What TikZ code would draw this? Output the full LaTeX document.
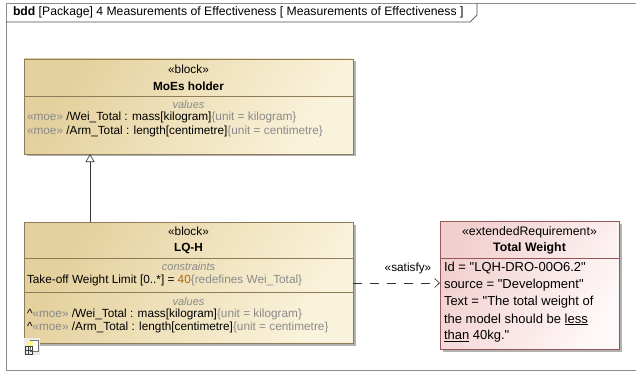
\documentclass[tikz,border=0pt]{standalone}
\usepackage{fontspec}
\setmainfont{Liberation Sans}
\usetikzlibrary{arrows.meta,shadows}
\definecolor{tanD}{HTML}{E4D09C}
\definecolor{tanL}{HTML}{FAF3DC}
\definecolor{tanB}{HTML}{8E7C58}
\definecolor{pinkD}{HTML}{F2CFCF}
\definecolor{pinkL}{HTML}{FFF8F8}
\definecolor{reqB}{HTML}{985656}
\definecolor{grayT}{HTML}{8A8A8A}
\definecolor{numC}{HTML}{A8650A}
\definecolor{frameC}{HTML}{8C8C8C}
\tikzset{
  x=1pt,y=-1pt,
  every node/.style={inner sep=0pt,outer sep=0pt,font=\fontsize{11.8}{14}\selectfont},
  blockbox/.style={draw=tanB,line width=0.8pt,left color=tanD,right color=tanL,shading angle=60,
    drop shadow={shadow xshift=2.5pt,shadow yshift=-2.5pt,fill=black!30,opacity=1},
    anchor=north west,rectangle},
  reqbox/.style={draw=reqB,line width=0.8pt,left color=pinkD,right color=pinkL,shading angle=60,
    drop shadow={shadow xshift=2.5pt,shadow yshift=-2.5pt,fill=black!30,opacity=1},
    anchor=north west,rectangle},
  divider/.style={draw=tanB,line width=0.8pt},
  rdivider/.style={draw=reqB,line width=0.8pt},
  lt/.style={anchor=west},
  rt/.style={anchor=west,font=\fontsize{13}{16}\selectfont},
  ct/.style={anchor=center},
  comp/.style={anchor=center,text=grayT,font=\fontsize{11}{12}\selectfont\itshape},
  gen/.style={draw=black!80,line width=0.6pt,-{Triangle[open,length=8pt,width=9pt]}},
  sat/.style={draw=black!80,line width=0.6pt,dash pattern=on 9pt off 8pt,-{Straight Barb[length=5pt,width=9pt]}},
}
\newcommand{\gt}[1]{\textcolor{grayT}{#1}}
\begin{document}
\begin{tikzpicture}
\useasboundingbox (0,0) rectangle (636,374);
\fill[white] (0,0) rectangle (636,374);
% frame
\draw[frameC,line width=0.7pt] (645,3) -- (6,3) -- (6,370) -- (645,370);
\draw[black!70,line width=0.7pt] (6,22) -- (470,22) -- (477,15) -- (477,3);
\node[lt,font=\fontsize{12.2}{14}\selectfont] (title) at (13,12.5) {\textbf{bdd} [Package] 4 Measurements of Effectiveness [ Measurements of Effectiveness ]};

% MoEs holder
\node[blockbox,minimum width=329pt,minimum height=95pt] (moes) at (24,59) {};
\draw[divider] (24,96) -- (353,96);
\node[ct] (moesst) at (188.5,69.5) {«block»};
\node[ct] (moesnm) at (188.5,86) {\textbf{MoEs holder}};
\node[comp] (moesv) at (188.5,104.5) {values};
\node[lt] (moes1) at (27,117.5) {\gt{«moe»} /Wei\_Total : mass[kilogram]\gt{\{unit = kilogram\}}};
\node[lt] (moes2) at (27,131) {\gt{«moe»} /Arm\_Total : length[centimetre]\gt{\{unit = centimetre\}}};

% LQ-H
\node[blockbox,minimum width=329pt,minimum height=121pt] (lqh) at (24,222) {};
\draw[divider] (24,258) -- (353,258);
\draw[divider] (24,292) -- (353,292);
\node[ct] (lqhst) at (188.5,231.5) {«block»};
\node[ct] (lqhnm) at (188.5,248.5) {\textbf{LQ-H}};
\node[comp] (lqhc) at (188.5,267) {constraints};
\node[lt] (lqhc1) at (27,280.5) {Take-off Weight Limit [0..*] = \textcolor{numC}{40}\gt{\{redefines Wei\_Total\}}};
\node[comp] (lqhv) at (188.5,301.5) {values};
\node[lt] (lqh1) at (27,314) {\textasciicircum\gt{«moe»} /Wei\_Total : mass[kilogram]\gt{\{unit = kilogram\}}};
\node[lt] (lqh2) at (27,327.5) {\textasciicircum\gt{«moe»} /Arm\_Total : length[centimetre]\gt{\{unit = centimetre\}}};
% small icon
\fill[black!8] (24,338) rectangle (40,355);
\draw[black!55,fill=white,line width=0.5pt] (30,340) rectangle (38,351);
\fill[yellow!45] (27,341) rectangle (33,346);
\draw[black!75,line width=0.6pt] (25,346) rectangle (32,354);
\draw[black!75,line width=0.5pt] (25,350) -- (32,350) (28.5,346) -- (28.5,354);

% requirement
\node[reqbox,minimum width=179pt,minimum height=128pt] (req) at (440,221) {};
\draw[rdivider] (440,258) -- (619,258);
\node[ct,font=\fontsize{12.3}{14}\selectfont] (reqst) at (529.5,232.5) {«extendedRequirement»};
\node[ct,font=\fontsize{12.3}{14}\selectfont] (reqnm) at (529.5,248) {\textbf{Total Weight}};
\node[rt] (req1) at (444,268.5) {Id = \textquotedbl LQH-DRO-00O6.2\textquotedbl};
\node[rt] (req2) at (444,285.5) {source = \textquotedbl Development\textquotedbl};
\node[rt] (req3) at (444,302.5) {Text = \textquotedbl The total weight of};
\node[rt] (req4) at (444,319.5) {the model should be \underline{less}};
\node[rt] (req5) at (444,336.5) {\underline{than} 40kg.\textquotedbl};

% connectors
\coordinate (gx) at (90,0);
\draw[gen] (lqh.north -| gx) -- (moes.south -| gx);
\coordinate (sy) at (0,283);
\draw[sat] (lqh.east |- sy) -- (req.west |- sy);
\node[ct] (satl) at (408,268) {«satisfy»};
\end{tikzpicture}
\end{document}
